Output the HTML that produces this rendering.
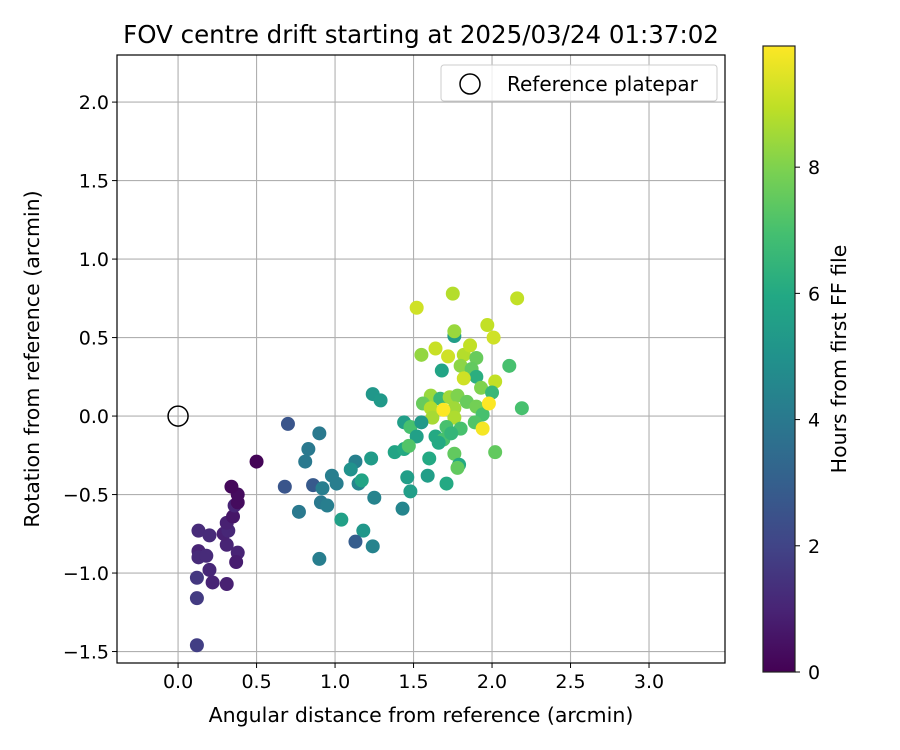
<!DOCTYPE html>
<html><head><meta charset="utf-8"><style>
body{margin:0;background:#fff}
svg{display:block;font-family:"DejaVu Sans","Liberation Sans",sans-serif}
</style></head><body>
<svg id="chart" width="900" height="750" viewBox="0 0 900 750" xmlns="http://www.w3.org/2000/svg">
<defs>
<linearGradient id="vir" x1="0" y1="1" x2="0" y2="0">
<stop offset="0" stop-color="#440154"/><stop offset="0.1" stop-color="#482475"/><stop offset="0.2" stop-color="#414487"/><stop offset="0.3" stop-color="#355f8d"/><stop offset="0.4" stop-color="#2a788e"/><stop offset="0.5" stop-color="#21918c"/><stop offset="0.6" stop-color="#22a884"/><stop offset="0.7" stop-color="#44bf70"/><stop offset="0.8" stop-color="#7ad151"/><stop offset="0.9" stop-color="#bddf26"/><stop offset="1" stop-color="#fde725"/>
</linearGradient>
</defs>
<text x="421" y="43" font-size="24.5" text-anchor="middle">FOV centre drift starting at 2025/03/24 01:37:02</text>
<g id="grid"></g>
<g id="points"></g>
<g id="axes"></g>
<text x="421" y="722" font-size="20.5" text-anchor="middle">Angular distance from reference (arcmin)</text>
<text transform="translate(39,359) rotate(-90)" font-size="20.5" text-anchor="middle">Rotation from reference (arcmin)</text>
<g>
<rect x="441" y="65" width="276" height="36" rx="3" fill="#fff" fill-opacity="0.8" stroke="#ccc"/>
<circle cx="470" cy="84" r="10" fill="none" stroke="#000" stroke-width="1.5"/>
<text x="507" y="91" font-size="20">Reference platepar</text>
</g>
<g>
<rect x="763" y="46" width="32" height="626" fill="url(#vir)" stroke="#222" stroke-width="1.2"/>
<g id="cbticks"></g>
<text transform="translate(846,359) rotate(-90)" font-size="20.5" text-anchor="middle">Hours from first FF file</text>
</g>
</svg>
<script>
const xTicks=[0.0,0.5,1.0,1.5,2.0,2.5,3.0];
const yTicks=[-1.5,-1.0,-0.5,0.0,0.5,1.0,1.5,2.0];
const cbTicks=[0,2,4,6,8];
const xs=[0.13,0.20,0.13,0.13,0.18,0.20,0.22,0.31,0.12,0.12,0.12,0.31,0.38,0.37,0.29,0.32,0.31,0.35,0.36,0.38,0.38,0.34,0.50,
0.70,0.90,0.83,0.81,0.68,0.86,0.92,0.98,1.01,1.13,1.10,1.23,1.38,1.15,1.17,1.25,0.77,0.91,0.95,1.04,1.18,1.13,1.24,0.90,1.43,1.24,1.29,
1.75,1.52,2.16,1.97,2.01,1.76,1.76,1.55,1.64,1.72,1.82,1.86,1.90,1.68,1.80,1.87,1.90,1.82,2.02,2.11,1.93,2.00,1.61,1.56,1.67,1.73,1.78,1.84,1.61,1.62,1.76,1.76,1.90,2.19,1.94,1.89,1.44,1.48,1.55,1.52,1.71,1.80,1.64,1.69,1.66,1.74,1.44,1.47,1.60,1.76,1.79,2.02,1.59,1.46,1.48,1.71,1.78,1.69,1.98,1.94];
const ys=[-0.73,-0.76,-0.86,-0.90,-0.89,-0.98,-1.06,-1.07,-1.03,-1.16,-1.46,-0.82,-0.87,-0.93,-0.75,-0.73,-0.68,-0.64,-0.57,-0.55,-0.50,-0.45,-0.29,
-0.05,-0.11,-0.21,-0.29,-0.45,-0.44,-0.46,-0.38,-0.43,-0.29,-0.34,-0.27,-0.23,-0.43,-0.41,-0.52,-0.61,-0.55,-0.57,-0.66,-0.73,-0.80,-0.83,-0.91,-0.59,0.14,0.10,
0.78,0.69,0.75,0.58,0.50,0.51,0.54,0.39,0.43,0.38,0.39,0.45,0.37,0.29,0.32,0.30,0.25,0.24,0.22,0.32,0.18,0.15,0.13,0.08,0.11,0.12,0.13,0.09,0.05,-0.01,0.05,-0.01,0.06,0.05,0.01,-0.04,-0.04,-0.07,-0.04,-0.13,-0.07,-0.08,-0.13,-0.15,-0.17,-0.11,-0.21,-0.19,-0.27,-0.24,-0.31,-0.23,-0.38,-0.39,-0.48,-0.43,-0.33,0.04,0.08,-0.08];
const hours=[1.2,1.2,1.0,1.2,1.2,1.1,1.0,0.9,1.6,1.7,1.8,1.0,1.0,0.8,0.9,1.1,0.9,0.6,1.0,0.3,0.3,0.2,0.1,
2.6,4.0,4.0,4.0,2.6,2.8,4.2,4.2,4.2,4.3,5.0,5.4,5.8,4.5,5.8,4.4,4.0,4.0,4.2,5.6,5.2,2.9,4.4,4.2,4.5,5.2,5.3,
8.8,9.2,9.0,9.0,9.2,5.5,8.4,8.3,9.1,9.2,8.8,9.0,7.6,5.8,8.2,7.5,6.2,9.2,9.0,7.0,8.0,6.6,8.4,7.6,6.6,8.5,8.0,7.6,8.8,8.6,8.5,8.7,7.8,7.0,7.0,7.2,5.5,7.0,5.3,5.6,7.0,7.0,6.0,7.0,6.0,6.5,6.0,7.2,6.0,7.5,6.0,7.5,5.5,5.5,5.5,6.0,7.5,9.9,9.9,9.8];
const refPoint=[0,0];
const X0=117,X1=725,Y0=55,Y1=663,xmin=-0.389,xmax=3.484,ymin=-1.573,ymax=2.30,hmax=9.92;
const sx=v=>X0+(v-xmin)/(xmax-xmin)*(X1-X0);
const sy=v=>Y1-(v-ymin)/(ymax-ymin)*(Y1-Y0);
const cy=h=>672-h/hmax*626;
const stops=["#440154","#482475","#414487","#355f8d","#2a788e","#21918c","#22a884","#44bf70","#7ad151","#bddf26","#fde725"];
function hex(c){return [1,3,5].map(i=>parseInt(c.substr(i,2),16));}
function vir(t){t=Math.max(0,Math.min(1,t));const p=t*10,i=Math.min(9,Math.floor(p)),f=p-i;const a=hex(stops[i]),b=hex(stops[i+1]);return 'rgb('+a.map((v,k)=>Math.round(v+(b[k]-v)*f)).join(',')+')';}
const NS='http://www.w3.org/2000/svg';
function mk(tag,attrs,parent,txt){const e=document.createElementNS(NS,tag);for(const k in attrs)e.setAttribute(k,attrs[k]);if(txt!==undefined)e.textContent=txt;parent.appendChild(e);return e;}
const grid=document.getElementById('grid'),axes=document.getElementById('axes'),pts=document.getElementById('points'),cbt=document.getElementById('cbticks');
xTicks.forEach(t=>{const x=sx(t);
const g=mk('line',{x1:x,x2:x,y1:Y0,y2:Y1,stroke:'#b0b0b0','stroke-width':1.1},grid);


const tk=mk('line',{x1:x,x2:x,y1:Y1,y2:Y1+5,stroke:'#000'},axes);


const l=mk('text',{x:x,y:Y1+25,'font-size':19,'text-anchor':'middle'},axes,t.toFixed(1));

});
yTicks.forEach(t=>{const y=sy(t);
const g=mk('line',{x1:X0,x2:X1,y1:y,y2:y,stroke:'#b0b0b0','stroke-width':1.1},grid);


const tk=mk('line',{x1:X0-5,x2:X0,y1:y,y2:y,stroke:'#000'},axes);


const l=mk('text',{x:X0-8,y:y+7,'font-size':19,'text-anchor':'end'},axes,t.toFixed(1).replace('-','\u2212'));

});
const frame=mk('rect',{x:X0,y:Y0,width:X1-X0,height:Y1-Y0,fill:'none',stroke:'#000','stroke-width':1.2},axes);


xs.forEach((v,i)=>{const c=mk('circle',{cx:sx(v),cy:sy(ys[i]),r:7,fill:vir(hours[i]/hmax)},pts);

});
const rp=mk('circle',{cx:sx(refPoint[0]),cy:sy(refPoint[1]),r:10,fill:'none',stroke:'#000','stroke-width':1.5},pts);


cbTicks.forEach(t=>{const y=cy(t);
const tk=mk('line',{x1:795,x2:800,y1:y,y2:y,stroke:'#000'},cbt);


const l=mk('text',{x:808,y:y+7,'font-size':19},cbt,String(t));

});
</script>
</body></html>
